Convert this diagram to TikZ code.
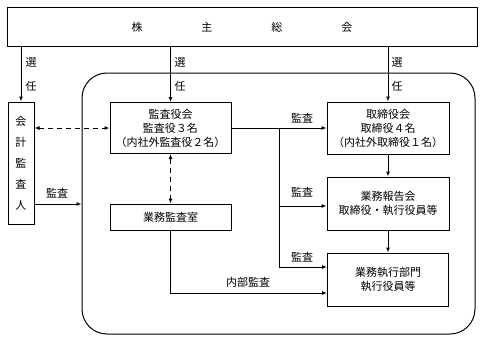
\documentclass[tikz,border=0pt]{standalone}
\usepackage{fontspec}
\setmainfont{Noto Sans CJK JP}
\usetikzlibrary{arrows.meta}
\begin{document}
\begin{tikzpicture}[x=1pt,y=-1pt,
  every node/.style={font=\fontsize{11}{14}\selectfont},
  box/.style={draw,line width=1pt,inner sep=0pt,align=center},
  line/.style={line width=1pt},
  arr/.style={line width=1pt,-{Latex[length=5pt,width=4pt]}},
  darr/.style={line width=1pt,dash pattern=on 5pt off 4pt,{Latex[length=5pt,width=4pt]}-{Latex[length=5pt,width=4pt]}},
  lbl/.style={inner sep=0pt}]
\useasboundingbox (0,0) rectangle (483,340);
\node[box,minimum width=470,minimum height=39] (top) at (242,27) {株\hspace{59pt}主\hspace{59pt}総\hspace{59pt}会};
\node[draw,line width=1pt,rounded corners=25pt,minimum width=393,minimum height=261,inner sep=0pt] (org) at (278.5,203.5) {};
\node[box,minimum width=26,minimum height=122,font=\fontsize{11}{21}\selectfont] (kaikei) at (21,163) {会\\計\\監\\査\\人};
\node[box,minimum width=121,minimum height=51] (kansa) at (170.5,128) {監査役会\\監査役３名\\（内社外監査役２名）};
\node[box,minimum width=121,minimum height=26] (gyomu) at (170.5,217) {業務監査室};
\node[box,minimum width=122,minimum height=52] (tori) at (388,128) {取締役会\\取締役４名\\（内社外取締役１名）};
\node[box,minimum width=122,minimum height=53] (hokoku) at (388,203.5) {業務報告会\\取締役・執行役員等};
\node[box,minimum width=121,minimum height=53] (shikko) at (388,279.5) {業務執行部門\\執行役員等};
% election arrows
\draw[arr] (kaikei.north |- top.south) -- (kaikei.north);
\draw[arr] (kansa.north |- top.south) -- (kansa.north);
\draw[arr] (tori.north |- top.south) -- (tori.north);
\foreach \x in {31,180,397} {
  \node[lbl] at (\x,62) {選};
  \node[lbl] at (\x,86) {任};
}
% dashed
\draw[darr] (kaikei.east |- kansa.west) -- (kansa.west);
\draw[darr] (kansa.south) -- (gyomu.north);
% audit from kaikei
\coordinate (ka) at (34,204);
\draw[arr] (kaikei.east |- ka) -- (org.west |- ka);
\node[lbl] at (57,193) {監査};
% kansa to tori
\draw[arr] (kansa.east) -- (tori.west |- kansa.east);
\node[lbl] at (302,118) {監査};
\coordinate (b) at (279,128);
\coordinate (b1) at (279,206);
\coordinate (b2) at (279,267);
\draw[line] (b) -- (b2);
\draw[arr] (b1) -- (hokoku.west |- b1);
\draw[arr] (b2) -- (shikko.west |- b2);
\node[lbl] at (302,192) {監査};
\node[lbl] at (302,257) {監査};
% internal audit
\coordinate (c) at (170.5,293);
\draw[arr] (gyomu.south) -- (c) -- (shikko.west |- c);
\node[lbl] at (248,282) {内部監査};
% tori -> hokoku -> shikko
\draw[arr] (tori.south) -- (hokoku.north);
\draw[arr] (hokoku.south) -- (shikko.north);
\end{tikzpicture}
\end{document}
